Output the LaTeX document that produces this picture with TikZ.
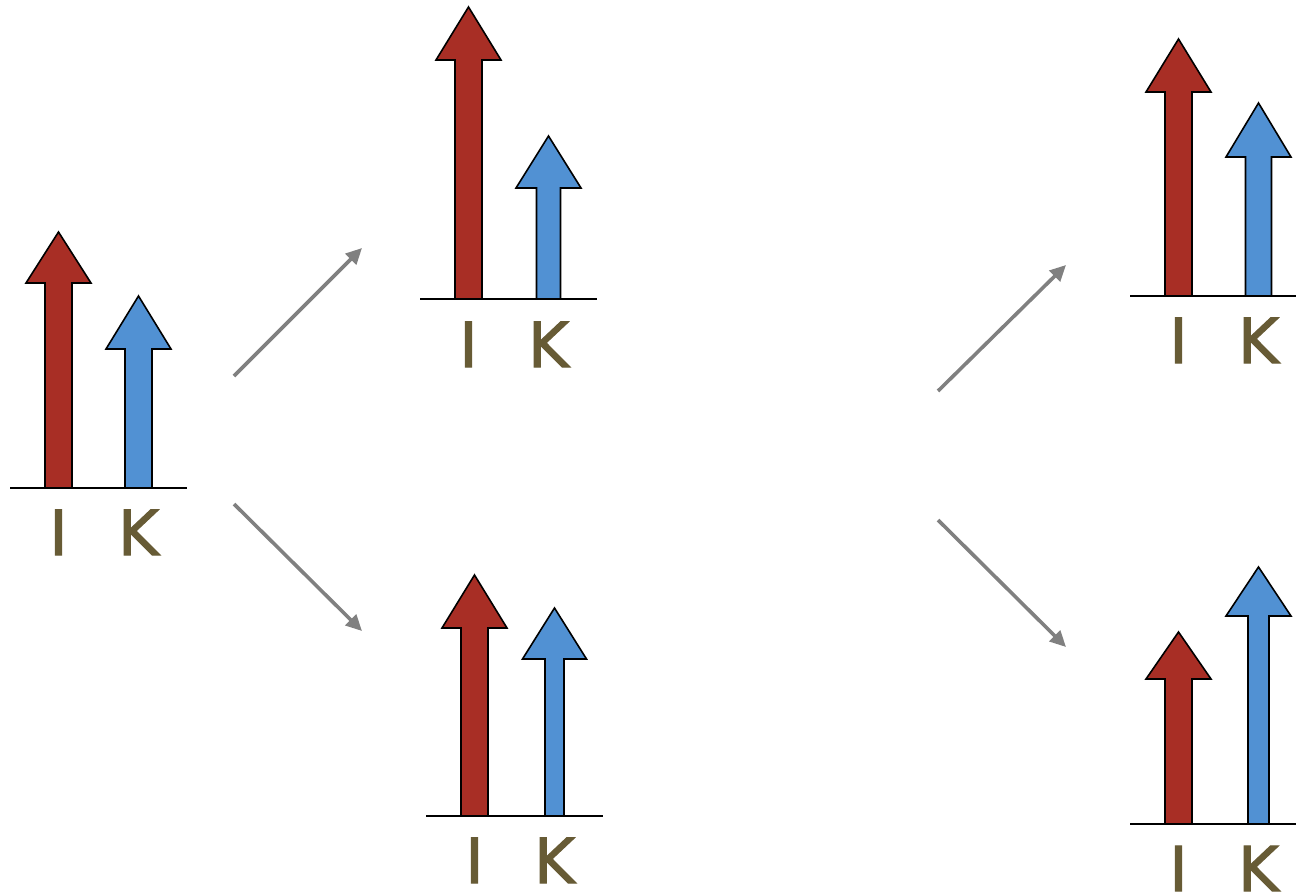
\documentclass[tikz,border=0pt]{standalone}
\usepackage{fontspec}
\setmainfont{DejaVu Sans}
\newfontfamily\labfont[FakeBold=1.8]{DejaVu Sans}
\usetikzlibrary{arrows.meta}
\definecolor{ired}{HTML}{A82E25}
\definecolor{kblue}{HTML}{5191D3}
\definecolor{lbl}{HTML}{675B35}
\definecolor{conn}{HTML}{808080}
\tikzset{
  blockarrow/.style={draw=black, line width=1.6pt, line join=miter},
  axisline/.style={draw=black, line width=1.6pt},
  lab/.style={anchor=base, text=lbl, inner sep=0pt, font=\labfont\fontsize{62}{62}\selectfont},
  connector/.style={draw=conn, line width=3.6pt, -{Triangle[length=16pt,width=15pt]}}
}
% center x, base y, tip y, head-base y, shaft half width, head half width, colour
\newcommand{\blockup}[7]{%
  \draw[blockarrow, fill=#7] (#1-#5,#2) -- (#1-#5,#4) -- (#1-#6,#4) -- (#1,#3)
    -- (#1+#6,#4) -- (#1+#5,#4) -- (#1+#5,#2) -- cycle;}
\begin{document}
\begin{tikzpicture}[x=1pt,y=-1pt]
\useasboundingbox (0,0) rectangle (1296,892);
% group 1
\blockup{58.5}{488}{232}{283}{13.5}{32.5}{ired}
\blockup{138.5}{488}{296}{349}{13.5}{32.5}{kblue}
\draw[axisline] (10,488) -- (187,488);
\node[lab] (i1) at (58.5,555) {I};
\node[lab] (k1) at (138.5,555) {K};
% group 2
\blockup{468.5}{299}{7}{60}{13.5}{32.5}{ired}
\blockup{548.5}{299}{136}{188}{12}{32.5}{kblue}
\draw[axisline] (420,299) -- (597,299);
\node[lab] (i2) at (468.5,367) {I};
\node[lab] (k2) at (548.5,367) {K};
% group 3
\blockup{1178.5}{296}{39}{92}{13.5}{32.5}{ired}
\blockup{1258.5}{296}{103}{157}{13}{32.5}{kblue}
\draw[axisline] (1130,296) -- (1296,296);
\node[lab] (i3) at (1178.5,363) {I};
\node[lab] (k3) at (1258.5,363) {K};
% group 4
\blockup{1178.5}{824}{632}{679}{13.5}{32.5}{ired}
\blockup{1258.5}{824}{567}{616}{10.5}{32.5}{kblue}
\draw[axisline] (1130,824) -- (1296,824);
\node[lab] (i4) at (1178.5,891) {I};
\node[lab] (k4) at (1258.5,891) {K};
% group 5
\blockup{474.5}{816}{575}{628}{13.5}{32.5}{ired}
\blockup{554.5}{816}{608}{659}{9.5}{32}{kblue}
\draw[axisline] (426,816) -- (603,816);
\node[lab] (i5) at (474.5,883) {I};
\node[lab] (k5) at (554.5,883) {K};
% connectors
\coordinate (a1s) at (234,376); \coordinate (a1e) at (362,248);
\coordinate (a2s) at (234,504); \coordinate (a2e) at (362,631);
\coordinate (a3s) at (938,391); \coordinate (a3e) at (1066,265);
\coordinate (a4s) at (938,520); \coordinate (a4e) at (1066,647);
\draw[connector] (a1s) -- (a1e);
\draw[connector] (a2s) -- (a2e);
\draw[connector] (a3s) -- (a3e);
\draw[connector] (a4s) -- (a4e);
\end{tikzpicture}
\end{document}
